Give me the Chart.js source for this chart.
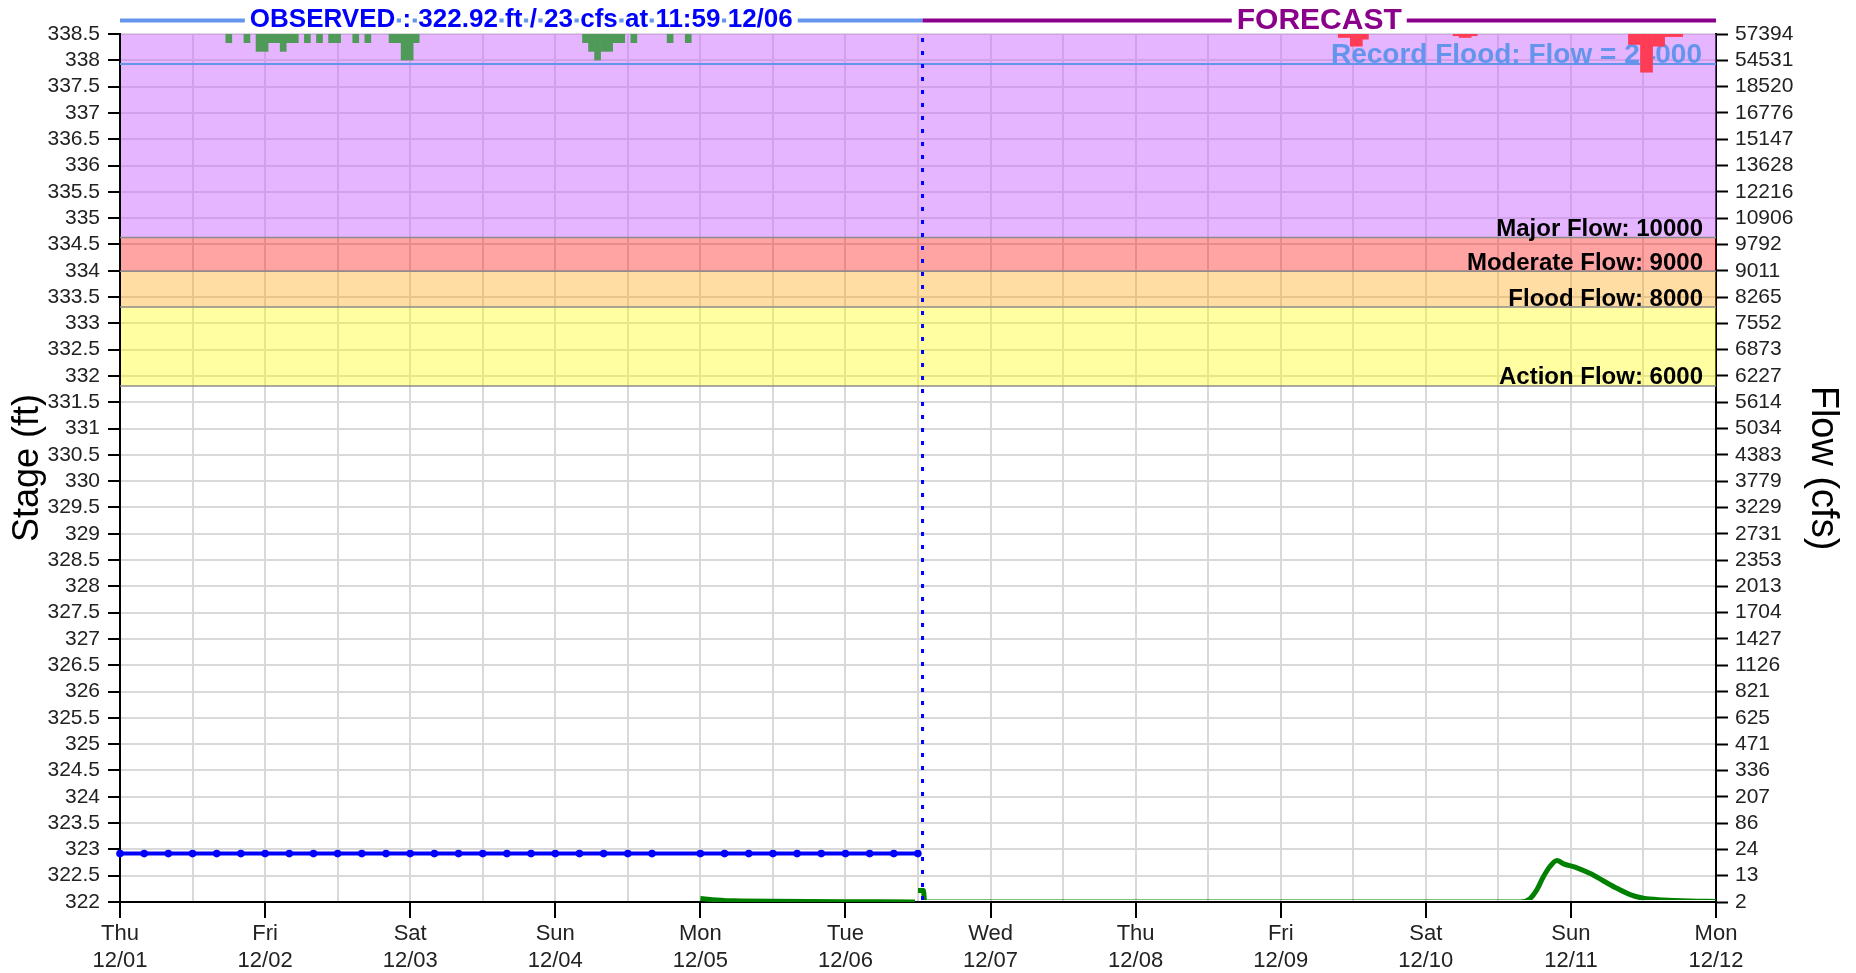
<!DOCTYPE html>
<html><head><meta charset="utf-8">
<script src="https://cdn.jsdelivr.net/npm/chart.js@4.4.0/dist/chart.umd.min.js"></script>
<style>html,body{margin:0;padding:0;background:#fff;overflow:hidden}canvas{display:block}</style>
</head><body>
<canvas id="c" width="1856" height="973"></canvas>
<script>
// ---------------- data ----------------
const dayNames = ['Thu','Fri','Sat','Sun','Mon','Tue','Wed','Thu','Fri','Sat','Sun','Mon'];
const dayDates = ['12/01','12/02','12/03','12/04','12/05','12/06','12/07','12/08','12/09','12/10','12/11','12/12'];

// hours since Thu 12/01 00:00
const stageHours = [0,4,8,12,16,20,24,28,32,36,40,44,48,52,56,60,64,68,72,76,80,84,88,92,96,100,104,108,112,116,120,124,128,131.98];
const stageValues = [322.92,322.92,322.92,322.92,322.92,322.92,322.92,322.92,322.92,322.92,322.92,322.92,322.92,322.92,322.92,322.92,322.92,322.92,322.92,322.92,322.92,322.92,322.92,null,322.92,322.92,322.92,322.92,322.92,322.92,322.92,322.92,322.92,322.92];

// green flow trace, read on the stage axis (ft)
const flowObsHours = [96,98,100,103,108,114,120,126,131.5];
const flowObsStage = [322.065,322.045,322.03,322.02,322.012,322.008,322.005,322.003,322.002];
const flowFcstHours = [132.0,132.9,133.1,160,200,231.6,233.2,234.3,235.4,236.5,237.7,238.7,241.0,243.2,245.4,247.6,249.8,252.0,255.3,259.7,264];
const flowFcstStage = [322.22,322.22,322.0,322.0,322.0,322.0,322.06,322.22,322.47,322.67,322.79,322.73,322.65,322.54,322.40,322.26,322.14,322.07,322.04,322.02,322.01];

// hourly precipitation (inches), hour = start of the hour
const obsPrecipHours = [17,20,22,23,24,25,26,27,28,30,32,34,35,38,40,44,45,46,47,48,76,77,78,79,80,81,82,84,90,93];
const obsPrecipIn    = [.01,.01,.02,.02,.01,.01,.02,.01,.01,.01,.01,.01,.01,.01,.01,.01,.01,.03,.03,.01,.01,.02,.03,.02,.02,.01,.01,.01,.01,.01];
const fcstPrecipHours = [202,203,204,205,206,221,222,223,224,250,251,252,253,254,255,256,257,258];
const fcstPrecipIn    = [.004,.004,.014,.014,.006,.002,.004,.004,.002,.012,.012,.044,.044,.014,.014,.003,.003,.003];

// right axis: flow at each stage tick, top (338.5) to bottom (322)
const flowTickLabels = ['57394','54531','18520','16776','15147','13628','12216','10906','9792','9011','8265','7552','6873','6227','5614','5034','4383','3779','3229','2731','2353','2013','1704','1427','1126','821','625','471','336','207','86','24','13','2'];

const floodNames  = ['Action','Flood','Moderate','Major'];
const floodFlows  = [6000,8000,9000,10000];
const floodStages = [331.81,333.31,333.99,334.63];
const recordStage = 337.93;
const recordFlow  = 24000;

const obsStage = '322.92';
const obsFlow = '23';
const obsTime = '11:59 12/06';
const nowHour = 132.75;

// ---------------- chart ----------------
const FONT = '"Liberation Sans", Arial, Helvetica, sans-serif';
Chart.defaults.font.family = FONT;
Chart.defaults.color = '#222';

const bandColors = ['rgba(255,255,0,0.37)','rgba(255,160,0,0.36)','rgba(255,0,0,0.36)','rgba(200,100,255,0.48)'];

function headerText(ctx, text, cx, baseline, font, color, x1, x2, lineColor, ly) {
  ctx.font = font;
  const w = ctx.measureText(text).width;
  const x0 = cx - w / 2;
  ctx.strokeStyle = lineColor;
  ctx.lineWidth = 4;
  ctx.beginPath();
  ctx.moveTo(x1, ly); ctx.lineTo(x0 - 5, ly);
  ctx.moveTo(x0 + w + 5, ly); ctx.lineTo(x2, ly);
  ctx.moveTo(x0, ly); ctx.lineTo(x0 + w, ly);
  ctx.stroke();
  ctx.fillStyle = '#fff';
  let idx = 0;
  text.split(' ').forEach(word => {
    const wx = x0 + ctx.measureText(text.slice(0, idx)).width;
    const ww = ctx.measureText(word).width;
    ctx.fillRect(wx - 1.5, ly - 3, ww + 3, 6);
    idx += word.length + 1;
  });
  ctx.fillStyle = color;
  ctx.textAlign = 'left';
  ctx.textBaseline = 'alphabetic';
  ctx.fillText(text, x0, baseline);
}

const overlay = {
  id: 'overlay',
  beforeDatasetsDraw(chart) {
    const {ctx, chartArea: a, scales: {y}} = chart;
    ctx.save();
    const tops = [floodStages[1], floodStages[2], floodStages[3], y.max];
    for (let i = 0; i < 4; i++) {
      const yt = y.getPixelForValue(tops[i]);
      const yb = y.getPixelForValue(floodStages[i]);
      ctx.fillStyle = bandColors[i];
      ctx.fillRect(a.left + 1, yt, a.right - a.left - 1, yb - yt);
    }
    ctx.strokeStyle = '#8c8c8c';
    ctx.lineWidth = 1.5;
    for (let i = 0; i < 4; i++) {
      const yy = y.getPixelForValue(floodStages[i]);
      ctx.beginPath(); ctx.moveTo(a.left, yy); ctx.lineTo(a.right, yy); ctx.stroke();
    }
    ctx.fillStyle = '#000';
    ctx.font = 'bold 24px ' + FONT;
    ctx.textAlign = 'right';
    ctx.textBaseline = 'alphabetic';
    for (let i = 0; i < 4; i++) {
      const yy = y.getPixelForValue(floodStages[i]);
      ctx.fillText(floodNames[i] + ' Flow: ' + floodFlows[i], a.right - 13, yy - 1.5);
    }
    const yr = y.getPixelForValue(recordStage);
    ctx.strokeStyle = '#6495ED';
    ctx.lineWidth = 2;
    ctx.beginPath(); ctx.moveTo(a.left, yr); ctx.lineTo(a.right, yr); ctx.stroke();
    ctx.fillStyle = '#6495ED';
    ctx.font = 'bold 28px ' + FONT;
    ctx.fillText('Record Flood: Flow = ' + recordFlow, a.right - 14, yr - 1);
    ctx.restore();
  },
  afterDatasetsDraw(chart) {
    const {ctx, chartArea: a, scales: {x}} = chart;
    const nx = x.getPixelForValue(nowHour);
    ctx.save();
    ctx.strokeStyle = '#0000ff';
    ctx.lineWidth = 3;
    ctx.setLineDash([4, 9]);
    ctx.beginPath(); ctx.moveTo(nx, a.top + 4); ctx.lineTo(nx, a.bottom); ctx.stroke();
    ctx.restore();
  },
  afterDraw(chart) {
    const {ctx, chartArea: a, scales: {x}} = chart;
    const nx = x.getPixelForValue(nowHour);
    ctx.save();
    headerText(ctx, 'OBSERVED : ' + obsStage + ' ft / ' + obsFlow + ' cfs at ' + obsTime,
      (a.left + nx) / 2, 27, 'bold 26px ' + FONT, '#0000ff', a.left, nx, '#6495ED', 20.5);
    headerText(ctx, 'FORECAST', (nx + a.right) / 2, 28.5, 'bold 30px ' + FONT, '#8B008B', nx, a.right, '#8B008B', 20.5);
    ctx.restore();
  }
};

const xy = (xs, ys) => xs.map((h, i) => ({x: h, y: ys[i]}));
const bars = (xs, ys) => xs.map((h, i) => ({x: h + 0.5, y: ys[i]}));

new Chart(document.getElementById('c'), {
  type: 'line',
  data: {
    datasets: [
      {type: 'bar', data: bars(obsPrecipHours, obsPrecipIn), yAxisID: 'yp', backgroundColor: '#4f9a58', borderWidth: 0, barThickness: 6, order: 5},
      {type: 'bar', data: bars(fcstPrecipHours, fcstPrecipIn), yAxisID: 'yp', backgroundColor: 'rgb(255,60,85)', borderWidth: 0, barThickness: 6, order: 4},
      {data: xy(flowObsHours, flowObsStage), yAxisID: 'y', borderColor: '#008000', borderWidth: 5, pointRadius: 0, clip: 0, order: 3},
      {data: xy(flowFcstHours, flowFcstStage), yAxisID: 'y', borderColor: '#008000', borderWidth: 5, pointRadius: 0,
        clip: {left: 0, top: 0, right: 0, bottom: -2}, cubicInterpolationMode: 'monotone', order: 2},
      {data: xy(stageHours, stageValues), yAxisID: 'y', borderColor: '#0000ff', borderWidth: 4, pointRadius: 3.8, pointBackgroundColor: '#0000ff', pointBorderWidth: 0, spanGaps: true, clip: 5, order: 1}
    ]
  },
  options: {
    responsive: false,
    animation: false,
    devicePixelRatio: 1,
    layout: {padding: {top: 34, left: 0, right: 0, bottom: 0}},
    plugins: {legend: {display: false}, tooltip: {enabled: false}},
    scales: {
      x: {
        type: 'linear', min: 0, max: 264, offset: false,
        ticks: {stepSize: 12, autoSkip: false, maxRotation: 0, padding: 3, color: '#222',
          font: {size: 22, lineHeight: 1.2},
          callback: v => (v % 24 === 0 ? [dayNames[v / 24], dayDates[v / 24]] : '')},
        grid: {color: '#d9d9d9', lineWidth: 2, tickLength: 16, tickWidth: 2, offset: false,
          tickColor: c => (c.tick && c.tick.value % 24 === 0 ? '#000' : 'rgba(0,0,0,0)')},
        border: {color: '#000', width: 2},
        afterFit(s) { s.height = 71; }
      },
      y: {
        position: 'left', min: 322, max: 338.5,
        ticks: {stepSize: 0.5, autoSkip: false, padding: 8, color: '#222', font: {size: 21},
          callback: v => (Number.isInteger(v) ? String(v) : v.toFixed(1))},
        grid: {color: '#d9d9d9', lineWidth: 2, tickLength: 12, tickWidth: 2, tickColor: '#000'},
        border: {color: '#000', width: 2},
        title: {display: true, text: 'Stage (ft)', color: '#000', font: {size: 36}, padding: {top: 6, bottom: 0}},
        afterFit(s) { s.width = 120; }
      },
      y2: {
        position: 'right', min: 322, max: 338.5,
        ticks: {stepSize: 0.5, autoSkip: false, padding: 7, color: '#222', font: {size: 21},
          callback: v => flowTickLabels[Math.round((338.5 - v) / 0.5)]},
        grid: {drawOnChartArea: false, tickLength: 12, tickWidth: 2, tickColor: '#000'},
        border: {color: '#000', width: 2},
        title: {display: true, text: 'Flow (cfs)', color: '#000', font: {size: 38}, padding: {top: 11, bottom: 0}},
        afterFit(s) { s.width = 140; }
      },
      yp: {display: false, reverse: true, min: 0, max: 1.0}
    }
  },
  plugins: [overlay]
});
</script>
</body></html>
